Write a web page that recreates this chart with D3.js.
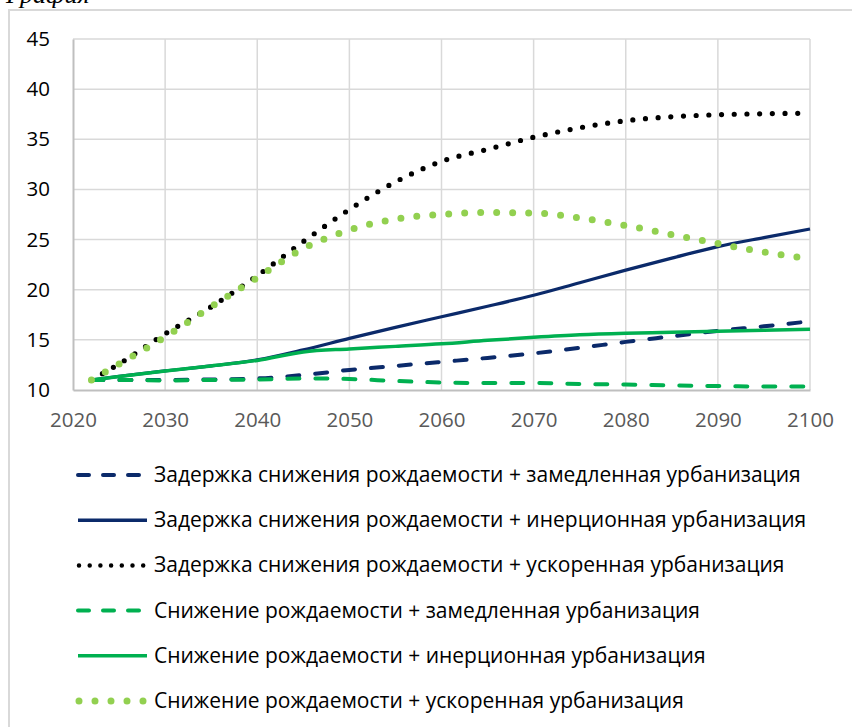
<!DOCTYPE html>
<html>
<head>
<meta charset="utf-8">
<script src="https://cdn.jsdelivr.net/npm/d3@7"></script>
<style>
  html, body { margin: 0; padding: 0; background: #fff; }
  svg { display: block; }
  text { font-family: "Open Sans", "Noto Sans", sans-serif; }
</style>
</head>
<body>
<svg id="chart" width="852" height="727"></svg>
<script>
// Years of the projection
const years = [2022, 2025, 2030, 2035, 2040, 2045, 2050, 2055, 2060, 2065, 2070, 2075, 2080, 2085, 2090, 2095, 2100];

// Scenario values, one array per series
const delaySlowUrb    = [11.0, 11.0, 11.0, 11.05, 11.15, 11.5, 12.0, 12.4, 12.8, 13.2, 13.65, 14.2, 14.8, 15.35, 15.9, 16.35, 16.85];
const delayInertUrb   = [11.0, 11.35, 11.9, 12.4, 13.0, 14.0, 15.15, 16.25, 17.3, 18.35, 19.45, 20.7, 21.95, 23.15, 24.3, 25.2, 26.05];
const delayFastUrb    = [11.0, 12.6, 15.6, 18.3, 21.4, 24.8, 28.0, 30.75, 32.8, 34.0, 35.2, 36.15, 36.85, 37.25, 37.45, 37.55, 37.6];
const fallSlowUrb     = [11.0, 11.0, 10.95, 11.0, 11.05, 11.15, 11.1, 10.9, 10.75, 10.7, 10.7, 10.6, 10.55, 10.45, 10.4, 10.35, 10.35];
const fallInertUrb    = [11.0, 11.35, 11.9, 12.4, 12.95, 13.8, 14.1, 14.35, 14.6, 14.95, 15.25, 15.5, 15.65, 15.75, 15.85, 15.95, 16.05];
const fallFastUrb     = [11.0, 12.6, 15.3, 18.3, 21.2, 24.1, 25.95, 27.05, 27.5, 27.7, 27.65, 27.15, 26.4, 25.5, 24.6, 23.75, 23.1];

// Series labels
const seriesNames = [
  "Задержка снижения рождаемости + замедленная урбанизация",
  "Задержка снижения рождаемости + инерционная урбанизация",
  "Задержка снижения рождаемости + ускоренная урбанизация",
  "Снижение рождаемости + замедленная урбанизация",
  "Снижение рождаемости + инерционная урбанизация",
  "Снижение рождаемости + ускоренная урбанизация"
];

// Axis ticks
const xTicks = [2020, 2030, 2040, 2050, 2060, 2070, 2080, 2090, 2100];
const yTicks = [10, 15, 20, 25, 30, 35, 40, 45];

// Line styles per series
const styles = [
  { color: "#0b2a6a", width: 4,   dash: "12 16", cap: "round", legendDash: "11 14" },
  { color: "#0b2a6a", width: 3.2, dash: null,    cap: "butt",  legendDash: null },
  { color: "#000000", width: 5.2, dash: "0 12.7", cap: "round", legendDash: "0 10.7" },
  { color: "#00b050", width: 4,   dash: "12 16", cap: "round", legendDash: "11 14" },
  { color: "#00b050", width: 3.5, dash: null,    cap: "butt",  legendDash: null },
  { color: "#92d050", width: 7,   dash: "0 16",  cap: "round", legendDash: "0 16" }
];

const seriesValues = [delaySlowUrb, delayInertUrb, delayFastUrb, fallSlowUrb, fallInertUrb, fallFastUrb];

const svg = d3.select("#chart");

// Outer chart frame
svg.append("rect")
  .attr("x", 9).attr("y", 10)
  .attr("width", 900).attr("height", 900)
  .attr("fill", "#fff")
  .attr("stroke", "#d9d9d9").attr("stroke-width", 2);

// Heading above the frame, only its lower edge falls inside the page
svg.append("text")
  .attr("x", 6).attr("y", 3)
  .style("font-family", "'Liberation Serif', serif")
  .style("font-style", "italic")
  .style("font-size", "26px")
  .attr("fill", "#000")
  .text("Графия");

const x = d3.scaleLinear().domain([2020, 2100]).range([73, 810]);
const y = d3.scaleLinear().domain([10, 45]).range([390, 39]);

// Gridlines
const grid = svg.append("g");
grid.selectAll("line.h")
  .data(yTicks.filter(d => d > 10))
  .join("line")
  .attr("x1", x(2020)).attr("x2", x(2100))
  .attr("y1", d => y(d)).attr("y2", d => y(d))
  .attr("stroke", "#d9d9d9").attr("stroke-width", 1.5);
grid.selectAll("line.v")
  .data(xTicks.filter(d => d > 2020))
  .join("line")
  .attr("x1", d => x(d)).attr("x2", d => x(d))
  .attr("y1", y(45)).attr("y2", y(10))
  .attr("stroke", "#d9d9d9").attr("stroke-width", 1.5);

// Axes
const xAxis = d3.axisBottom(x).tickValues(xTicks).tickFormat(d3.format("d")).tickSize(0).tickPadding(22);
const yAxis = d3.axisLeft(y).tickValues(yTicks).tickSize(0).tickPadding(23);

const gx = svg.append("g").attr("transform", `translate(0,${y(10)})`).call(xAxis);
gx.select(".domain").attr("stroke", "#bfbfbf").attr("stroke-width", 2);
gx.selectAll("text").attr("fill", "#595959").style("font-size", "20.5px");

const gy = svg.append("g").attr("transform", `translate(${x(2020)},0)`).call(yAxis);
gy.select(".domain").attr("stroke", "#bfbfbf").attr("stroke-width", 2);
gy.selectAll("text").attr("fill", "#000").style("font-size", "20.5px");

// Series lines
const line = d3.line()
  .x(d => x(d[0]))
  .y(d => y(d[1]))
  .curve(d3.curveMonotoneX);

seriesValues.forEach((vals, i) => {
  const st = styles[i];
  const pts = years.map((yr, j) => [yr, vals[j]]);
  svg.append("path")
    .datum(pts)
    .attr("d", line)
    .attr("fill", "none")
    .attr("stroke", st.color)
    .attr("stroke-width", st.width)
    .attr("stroke-linecap", st.cap)
    .attr("stroke-linejoin", "round")
    .attr("stroke-dasharray", st.dash);
});

// Legend
const legend = svg.append("g");
seriesNames.forEach((name, i) => {
  const st = styles[i];
  const cy = 475 + i * 45.2;
  const isDots = st.dash && st.dash.startsWith("0");
  legend.append("line")
    .attr("x1", isDots ? 79 : 78).attr("x2", isDots ? 145 : 147)
    .attr("y1", cy).attr("y2", cy)
    .attr("stroke", st.color)
    .attr("stroke-width", i === 5 ? 7 : (i === 2 ? 4.5 : (st.dash ? 4 : 3.5)))
    .attr("stroke-linecap", st.dash ? "round" : "butt")
    .attr("stroke-dasharray", st.legendDash);
  legend.append("text")
    .attr("x", 154).attr("y", cy + 7)
    .attr("fill", "#000")
    .style("font-size", "21px")
    .text(name);
});
</script>
</body>
</html>
